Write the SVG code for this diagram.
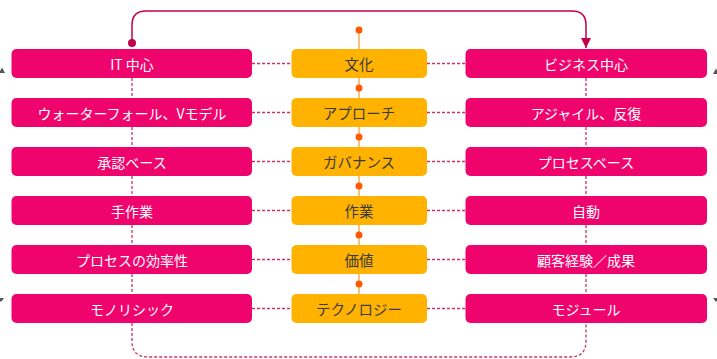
<svg xmlns="http://www.w3.org/2000/svg" width="717" height="359" viewBox="0 0 717 359">
<defs>
<style>
.pk{fill:#EF036D;}
.or{fill:#FFB200;}
.tw{fill:#ffffff;font-family:"Noto Sans CJK JP","Noto Sans",sans-serif;font-size:14px;text-anchor:middle;dominant-baseline:central;}
.td{fill:#3a3a3a;font-family:"Noto Sans CJK JP","Noto Sans",sans-serif;font-size:14.5px;text-anchor:middle;dominant-baseline:central;}
.dash{stroke:#C8336E;stroke-width:1.3;stroke-dasharray:3 2;fill:none;}
.dot{fill:#FF5A00;}
.tri{fill:#555555;}
</style>
<marker id="ah" viewBox="0 0 10 10" refX="10" refY="5" markerWidth="10" markerHeight="10" markerUnits="userSpaceOnUse" orient="auto">
<path d="M0,0 L10,5 L0,10 z" fill="#C0004F"/>
</marker>
</defs>
<g id="connectors">
<path d="M132,43 V25 Q132,11 146,11 H572 Q586,11 586,25 V48" fill="none" stroke="#C0004F" stroke-width="1.5" marker-end="url(#ah)"/>
<circle cx="132" cy="43" r="4" fill="#C0004F"/>
<path class="dash" d="M132,323 V341 Q132,357 148,357 H570 Q586,357 586,341 V323"/>
<line x1="359" y1="30" x2="359" y2="294" stroke="#F2A33A" stroke-width="1.3"/>
<circle class="dot" cx="359" cy="30" r="3.5"/>
<circle class="dot" cx="359" cy="88" r="3.5"/>
<circle class="dot" cx="359" cy="137" r="3.5"/>
<circle class="dot" cx="359" cy="186" r="3.5"/>
<circle class="dot" cx="359" cy="235" r="3.5"/>
<circle class="dot" cx="359" cy="284" r="3.5"/>
<line class="dash" x1="132" y1="78" x2="132" y2="98"/>
<line class="dash" x1="132" y1="127" x2="132" y2="147"/>
<line class="dash" x1="132" y1="176" x2="132" y2="196"/>
<line class="dash" x1="132" y1="225" x2="132" y2="245"/>
<line class="dash" x1="132" y1="274" x2="132" y2="294"/>
<line class="dash" x1="586" y1="78" x2="586" y2="98"/>
<line class="dash" x1="586" y1="127" x2="586" y2="147"/>
<line class="dash" x1="586" y1="176" x2="586" y2="196"/>
<line class="dash" x1="586" y1="225" x2="586" y2="245"/>
<line class="dash" x1="586" y1="274" x2="586" y2="294"/>
<line class="dash" x1="252" y1="63.5" x2="292" y2="63.5"/>
<line class="dash" x1="252" y1="112.5" x2="292" y2="112.5"/>
<line class="dash" x1="252" y1="161.5" x2="292" y2="161.5"/>
<line class="dash" x1="252" y1="210.5" x2="292" y2="210.5"/>
<line class="dash" x1="252" y1="259.5" x2="292" y2="259.5"/>
<line class="dash" x1="252" y1="308.5" x2="292" y2="308.5"/>
<line class="dash" x1="427" y1="63.5" x2="466" y2="63.5"/>
<line class="dash" x1="427" y1="112.5" x2="466" y2="112.5"/>
<line class="dash" x1="427" y1="161.5" x2="466" y2="161.5"/>
<line class="dash" x1="427" y1="210.5" x2="466" y2="210.5"/>
<line class="dash" x1="427" y1="259.5" x2="466" y2="259.5"/>
<line class="dash" x1="427" y1="308.5" x2="466" y2="308.5"/>
</g>
<g id="edge-marks">
<path class="tri" d="M-1,73 L2,67.5 L5,73 z"/>
<path class="tri" d="M713,74 L716,68.5 L719,74 z"/>
<path class="tri" d="M-2,298 L4,298 L1,302 z"/>
<path class="tri" d="M713,298 L719,298 L716,302 z"/>
</g>
<g id="l1"><rect class="pk" x="11.5" y="49" width="240.5" height="29" rx="5"/><text class="tw" x="132" y="63.5">IT 中心</text></g>
<g id="l2"><rect class="pk" x="11.5" y="98" width="240.5" height="29" rx="5"/><text class="tw" x="132" y="112.5">ウォーターフォール、Vモデル</text></g>
<g id="l3"><rect class="pk" x="11.5" y="147" width="240.5" height="29" rx="5"/><text class="tw" x="132" y="161.5">承認ベース</text></g>
<g id="l4"><rect class="pk" x="11.5" y="196" width="240.5" height="29" rx="5"/><text class="tw" x="132" y="210.5">手作業</text></g>
<g id="l5"><rect class="pk" x="11.5" y="245" width="240.5" height="29" rx="5"/><text class="tw" x="132" y="259.5">プロセスの効率性</text></g>
<g id="l6"><rect class="pk" x="11.5" y="294" width="240.5" height="29" rx="5"/><text class="tw" x="132" y="308.5">モノリシック</text></g>
<g id="c1"><rect class="or" x="291.5" y="49" width="135.5" height="29" rx="5"/><text class="td" x="359" y="63.5">文化</text></g>
<g id="c2"><rect class="or" x="291.5" y="98" width="135.5" height="29" rx="5"/><text class="td" x="359" y="112.5">アプローチ</text></g>
<g id="c3"><rect class="or" x="291.5" y="147" width="135.5" height="29" rx="5"/><text class="td" x="359" y="161.5">ガバナンス</text></g>
<g id="c4"><rect class="or" x="291.5" y="196" width="135.5" height="29" rx="5"/><text class="td" x="359" y="210.5">作業</text></g>
<g id="c5"><rect class="or" x="291.5" y="245" width="135.5" height="29" rx="5"/><text class="td" x="359" y="259.5">価値</text></g>
<g id="c6"><rect class="or" x="291.5" y="294" width="135.5" height="29" rx="5"/><text class="td" x="359" y="308.5">テクノロジー</text></g>
<g id="r1"><rect class="pk" x="465.5" y="49" width="241.5" height="29" rx="5"/><text class="tw" x="586" y="63.5">ビジネス中心</text></g>
<g id="r2"><rect class="pk" x="465.5" y="98" width="241.5" height="29" rx="5"/><text class="tw" x="586" y="112.5">アジャイル、反復</text></g>
<g id="r3"><rect class="pk" x="465.5" y="147" width="241.5" height="29" rx="5"/><text class="tw" x="586" y="161.5">プロセスベース</text></g>
<g id="r4"><rect class="pk" x="465.5" y="196" width="241.5" height="29" rx="5"/><text class="tw" x="586" y="210.5">自動</text></g>
<g id="r5"><rect class="pk" x="465.5" y="245" width="241.5" height="29" rx="5"/><text class="tw" x="586" y="259.5">顧客経験／成果</text></g>
<g id="r6"><rect class="pk" x="465.5" y="294" width="241.5" height="29" rx="5"/><text class="tw" x="586" y="308.5">モジュール</text></g>
</svg>
